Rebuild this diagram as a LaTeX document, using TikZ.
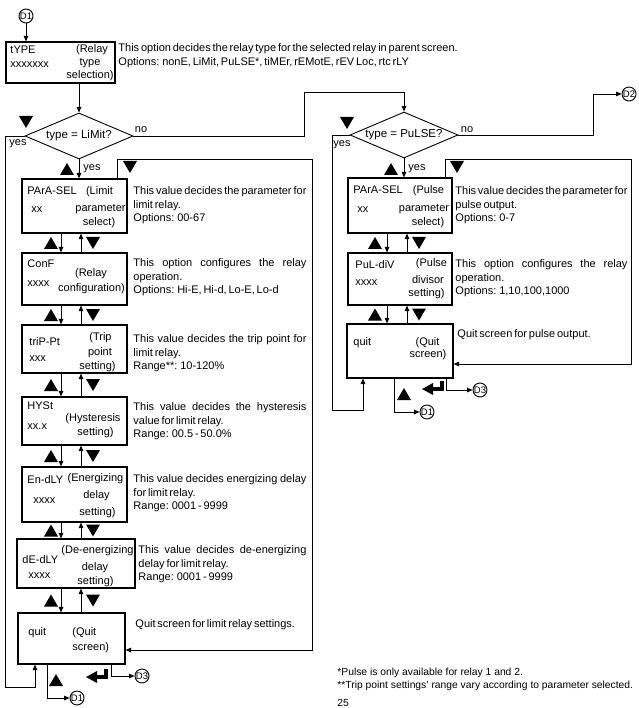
\documentclass[tikz,border=0pt]{standalone}
\usepackage{fontspec}
\setmainfont{Liberation Sans}
\newfontfamily\descfont[WordSpace=0.6]{Liberation Sans}
\usetikzlibrary{shapes.geometric,arrows.meta}
\begin{document}
\begin{tikzpicture}[x=1pt,y=-1pt,
  line width=0.9pt,
  box/.style={draw, line width=1.1pt, inner sep=0pt},
  arr/.style={-{Triangle[length=5.5pt,width=4.5pt]}},
  bt/.style={font=\fontsize{11}{13}\selectfont, inner sep=0pt, text height=7.8pt, text depth=0pt},
  desc/.style={font=\descfont\fontsize{11}{13.7}\selectfont, inner sep=0pt, anchor=north west, align=left},
  dia/.style={draw, diamond, aspect=2.35, inner sep=0pt, minimum width=108pt, minimum height=46pt, font=\fontsize{11.5}{12}\selectfont},
  conn/.style={draw, circle, inner sep=0pt, minimum size=14pt, font=\fontsize{9.5}{10}\selectfont},
  lbl/.style={font=\fontsize{11}{12}\selectfont, inner sep=0pt},
  foot/.style={font=\fontsize{10.3}{12}\selectfont, inner sep=0pt, anchor=west},
  uptri/.pic={\fill (-7,6) -- (7,6) -- (0,-6) -- cycle;},
  dntri/.pic={\fill (-7,-6) -- (7,-6) -- (0,6) -- cycle;},
  enterkey/.pic={\fill (0,0) -- (11,-6) -- (11,6) -- cycle; \fill (10,-2) rectangle (22,2); \fill (18,-8) rectangle (22,2);}
]
\useasboundingbox (0,0) rectangle (638,708);
\clip (0,0) rectangle (638,708);

% helper x positions
\coordinate (xd) at (61,0);
\coordinate (xu) at (81,0);
\coordinate (xtu) at (51,0);
\coordinate (xtd) at (93,0);
\coordinate (pxd) at (387,0);
\coordinate (pxu) at (407,0);
\coordinate (pxtu) at (375,0);
\coordinate (pxtd) at (419,0);
\coordinate (xl) at (117,0);
\coordinate (pxl) at (445,0);
\coordinate (xq1) at (35,0);
\coordinate (xq2) at (47,0);
\coordinate (xq3) at (111,0);
\coordinate (pxq1) at (363,0);
\coordinate (pxq2) at (394,0);
\coordinate (pxq3) at (446,0);
\coordinate (yl) at (0,650);
\coordinate (pyl) at (0,364);

% connectors (circles)
\node[conn] (d1a) at (26,16) {D1};
\node[conn] (d2) at (629,94) {D2};
\node[conn] (d1b) at (77,698) {D1};
\node[conn] (d3a) at (142,676) {D3};
\node[conn] (d1c) at (427,412) {D1};
\node[conn] (d3b) at (480,390) {D3};

% tYPE box
\node[box, minimum width=109pt, minimum height=41pt] (type) at (60.5,62.5) {};
\node[bt, anchor=west] (typeA) at (10,50) {tYPE};
\node[bt, anchor=west] (typeB) at (10,64) {xxxxxxx};
\node[bt] (typeC) at (92,49) {(Relay};
\node[bt] (typeD) at (90,62) {type};
\node[bt] (typeE) at (90,74.5) {selection)};
\node[desc, font=\descfont\fontsize{11}{14}\selectfont] (typedesc) at (118,43) {This option decides the relay type for the selected relay in parent screen.\\Options: nonE, LiMit, PuLSE*, tiMEr, rEMotE, rEV Loc, rtc rLY};

% diamonds
\node[dia] (lim) at (79,136) {type = LiMit?};
\node[dia] (pul) at (404,135) {type = PuLSE?};
\node[lbl] (noA) at (141,130) {no};
\node[lbl] (yesA) at (18,144) {yes};
\node[lbl] (yesB) at (92,169) {yes};
\node[lbl] (noB) at (467,130) {no};
\node[lbl] (yesC) at (342,145) {yes};
\node[lbl] (yesD) at (417,169) {yes};

% left column boxes
\node[box, minimum width=105pt, minimum height=54pt] (para) at (74.5,206) {};
\node[box, minimum width=105pt, minimum height=52pt] (conf) at (74.5,279) {};
\node[box, minimum width=105pt, minimum height=48pt] (trip) at (74.5,349) {};
\node[box, minimum width=105pt, minimum height=48pt] (hyst) at (74.5,421) {};
\node[box, minimum width=105pt, minimum height=55pt] (en) at (74.5,494.5) {};
\node[box, minimum width=118pt, minimum height=49pt] (de) at (76,563.5) {};
\node[box, minimum width=107pt, minimum height=51pt] (quit) at (71.5,638.5) {};

\node[bt, anchor=west] (paraA) at (27,191) {PArA-SEL};
\node[bt, anchor=west] (paraB) at (31,209) {xx};
\node[bt] (paraC) at (99.5,191) {(Limit};
\node[bt] (paraD) at (100.5,208) {parameter};
\node[bt] (paraE) at (99,222) {select)};

\node[bt, anchor=west] (confA) at (27,264) {ConF};
\node[bt] (confB) at (91,273) {(Relay};
\node[bt, anchor=west] (confC) at (27,283) {xxxx};
\node[bt] (confD) at (91.5,288) {configuration)};

\node[bt, anchor=west] (tripA) at (29,342) {triP-Pt};
\node[bt, anchor=west] (tripB) at (29,358) {xxx};
\node[bt] (tripC) at (100.5,337) {(Trip};
\node[bt] (tripD) at (100,352) {point};
\node[bt] (tripE) at (97.5,366) {setting)};

\node[bt, anchor=west] (hystA) at (27,406) {HYSt};
\node[bt, anchor=west] (hystB) at (27,426) {xx.x};
\node[bt] (hystC) at (93,418) {(Hysteresis};
\node[bt] (hystD) at (95.5,432) {setting)};

\node[bt, anchor=west] (enA) at (27,480) {En-dLY};
\node[bt] (enB) at (95.5,478) {(Energizing};
\node[bt] (enC) at (96.5,495) {delay};
\node[bt, anchor=west] (enD) at (33,500) {xxxx};
\node[bt] (enE) at (97.5,512) {setting)};

\node[bt, anchor=west] (deA) at (22,560) {dE-dLY};
\node[bt] (deB) at (97.5,550) {(De-energizing};
\node[bt] (deC) at (95,567) {delay};
\node[bt, anchor=west] (deD) at (28,575) {xxxx};
\node[bt] (deE) at (95.5,581) {setting)};

\node[bt, anchor=west] (quitA) at (28,632) {quit};
\node[bt, anchor=west] (quitB) at (72,632) {(Quit};
\node[bt, anchor=west] (quitC) at (72,647) {screen)};

% left descriptions
\node[desc] (dPara) at (133,186) {\makebox[173pt][s]{This value decides the parameter for}\\limit relay.\\Options: 00-67};
\node[desc] (dConf) at (133,258) {\makebox[173pt][s]{This option configures the relay}\\operation.\\Options: Hi-E, Hi-d, Lo-E, Lo-d};
\node[desc] (dTrip) at (133,334) {\makebox[173pt][s]{This value decides the trip point for}\\limit relay.\\Range**: 10-120\%};
\node[desc] (dHyst) at (133,402) {\makebox[173pt][s]{This value decides the hysteresis}\\value for limit relay.\\Range: 00.5 - 50.0\%};
\node[desc] (dEn) at (133,474) {\makebox[173pt][s]{This value decides energizing delay}\\for limit relay.\\Range: 0001 - 9999};
\node[desc] (dDe) at (138,545) {\makebox[168pt][s]{This value decides de-energizing}\\delay for limit relay.\\Range: 0001 - 9999};
\node[desc] (dQuit) at (135,619) {Quit screen for limit relay settings.};

% right column boxes
\node[box, minimum width=104pt, minimum height=55pt] (ppara) at (400,205.5) {};
\node[box, minimum width=104pt, minimum height=52pt] (pdiv) at (400,279) {};
\node[box, minimum width=106pt, minimum height=54pt] (pquit) at (400,351) {};

\node[bt, anchor=west] (pparaA) at (353,190) {PArA-SEL};
\node[bt, anchor=west] (pparaB) at (357,209) {xx};
\node[bt] (pparaC) at (428.5,190) {(Pulse};
\node[bt] (pparaD) at (424,208) {parameter};
\node[bt] (pparaE) at (428,222) {select)};

\node[bt, anchor=west] (pdivA) at (355,265) {PuL-diV};
\node[bt, anchor=west] (pdivB) at (355,282) {xxxx};
\node[bt] (pdivC) at (431.5,263) {(Pulse};
\node[bt] (pdivD) at (428,280) {divisor};
\node[bt] (pdivE) at (426.5,293) {setting)};

\node[bt, anchor=west] (pquitA) at (353,342) {quit};
\node[bt] (pquitB) at (427.5,342) {(Quit};
\node[bt] (pquitC) at (428,354) {screen)};

\node[desc] (dPPara) at (455,186) {\makebox[172pt][s]{This value decides the parameter for}\\pulse output.\\Options: 0-7};
\node[desc] (dPDiv) at (455,259) {\makebox[172pt][s]{This option configures the relay}\\operation.\\Options: 1,10,100,1000};
\node[desc] (dPQuit) at (457,329) {Quit screen for pulse output.};

% footnotes
\node[foot] (f1) at (337,673) {*Pulse is only available for relay 1 and 2.};
\node[foot] (f2) at (337,686) {**Trip point settings' range vary according to parameter selected.};
\node[foot, anchor=north] (pg) at (343,698.5) {25};

% main connectors
\draw[arr] (d1a) -- (type.north -| d1a);
\draw[arr] (type.south -| lim.north) -- (lim.north);
\draw[arr] (lim.west) -| (5,687) -| (quit.south -| xq1);
\draw[arr] (lim.south) -- (para.north -| lim.south);
\draw[arr] (lim.east) -| (304,92) -| (pul.north);
\draw[arr] (para.north -| xl) |- (312,159) -- (312,650) -- (quit.east |- yl);
\draw[arr] (quit.south -| xq2) |- (d1b);
\draw[arr] (quit.south -| xq3) |- (d3a);

\draw[arr] (pul.east) -| (593,94) -- (d2);
\draw[arr] (pul.west) -| (332,410) -| (pquit.south -| pxq1);
\draw[arr] (pul.south) -- (ppara.north -| pul.south);
\draw[arr] (ppara.north -| pxl) |- (631,159) -- (631,364) -- (pquit.east |- pyl);
\draw[arr] (pquit.south -| pxq2) |- (d1c);
\draw[arr] (pquit.south -| pxq3) |- (d3b);

% gap arrows and triangles
\foreach \a/\b in {para/conf, conf/trip, trip/hyst, hyst/en, en/de, de/quit} {
  \draw[arr] (\a.south -| xd) -- (\b.north -| xd);
  \draw[arr] (\b.north -| xu) -- (\a.south -| xu);
  \path (\a.south -| xtu) -- (\b.north -| xtu) coordinate[midway] (mu);
  \pic at (mu) {uptri};
  \path (\a.south -| xtd) -- (\b.north -| xtd) coordinate[midway] (md);
  \pic at (md) {dntri};
}
\foreach \a/\b in {ppara/pdiv, pdiv/pquit} {
  \draw[arr] (\a.south -| pxd) -- (\b.north -| pxd);
  \draw[arr] (\b.north -| pxu) -- (\a.south -| pxu);
  \path (\a.south -| pxtu) -- (\b.north -| pxtu) coordinate[midway] (pmu);
  \pic at (pmu) {uptri};
  \path (\a.south -| pxtd) -- (\b.north -| pxtd) coordinate[midway] (pmd);
  \pic at (pmd) {dntri};
}

% other key triangles
\pic at (26,122) {dntri};
\pic at (67,169) {uptri};
\pic at (130,167) {dntri};
\pic at (56,680) {uptri};
\pic at (347,123) {dntri};
\pic at (391,169) {uptri};
\pic at (457,167) {dntri};
\pic at (404,394) {uptri};
\pic at (86,677) {enterkey};
\pic at (422,389) {enterkey};
\end{tikzpicture}
\end{document}
